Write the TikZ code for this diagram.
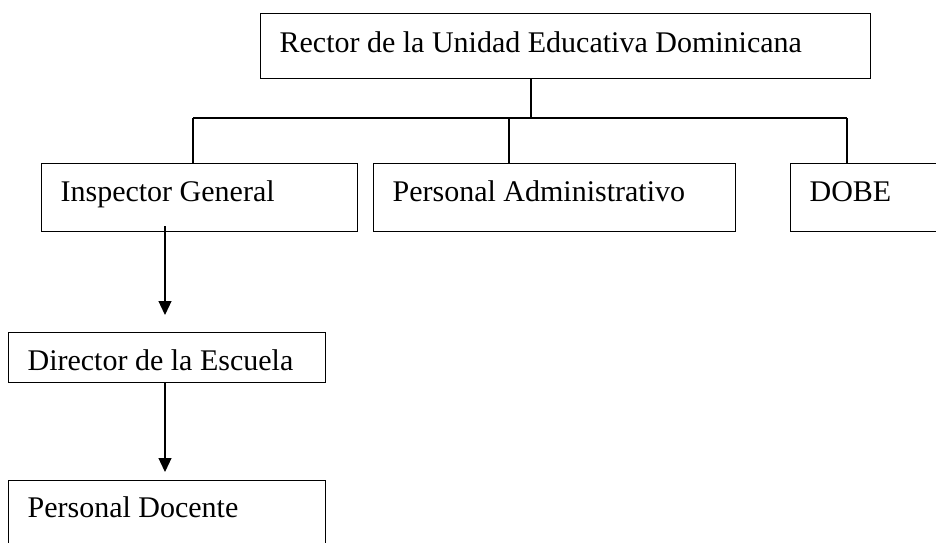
\documentclass[tikz,border=0pt]{standalone}
\usepackage{fontspec}
\setmainfont{Liberation Serif}
\usetikzlibrary{arrows.meta}

\tikzset{
  orgbox/.style={draw, line width=0.6pt, anchor=north west, inner xsep=9.5pt,
    inner ysep=0pt, align=flush left, font=\fontsize{15}{18}\selectfont},
  orgline/.style={line width=0.6pt},
  orgarrow/.style={line width=0.6pt, -{Triangle[width=6.5pt,length=7pt]}}
}

\begin{document}
\begin{tikzpicture}[x=0.5pt, y=-0.5pt]
\useasboundingbox (0,0) rectangle (936,542);
\clip (0,0) rectangle (936,542);
% boxes
\node[orgbox, text width=286pt, text height=19.5pt, text depth=13pt] (rector) at (260,13) {Rector de la Unidad Educativa Dominicana};
\node[orgbox, text width=139pt, text height=19pt, text depth=15pt] (insp) at (41,163) {Inspector General};
\node[orgbox, text width=162pt, text height=19pt, text depth=15pt] (admin) at (373,163) {Personal Administrativo};
\node[orgbox, text width=81pt, text height=19pt, text depth=15pt] (dobe) at (790,163) {DOBE};
\node[orgbox, text width=139.5pt, text height=19pt, text depth=6pt] (director) at (8,332) {Director de la Escuela};
\node[orgbox, text width=139.5pt, text height=18.5pt, text depth=17pt] (docente) at (8,480) {Personal Docente};
% connectors
\coordinate (tapR) at (531,118);
\coordinate (tapI) at (193,118);
\coordinate (tapA) at (509,118);
\coordinate (tapD) at (847,118);
\coordinate (arrA) at (165,315);
\coordinate (arrB) at (165,472);
\draw[orgline] (rector.south -| tapR) -- (tapR);
\draw[orgline] (tapI) -- (tapD);
\draw[orgline] (tapI) -- (tapI |- insp.north);
\draw[orgline] (tapA) -- (tapA |- admin.north);
\draw[orgline] (tapD) -- (tapD |- dobe.north);
\draw[orgarrow] ([yshift=3pt]insp.south -| arrA) -- (arrA);
\draw[orgarrow] (director.south -| arrB) -- (arrB);
\end{tikzpicture}
\end{document}
